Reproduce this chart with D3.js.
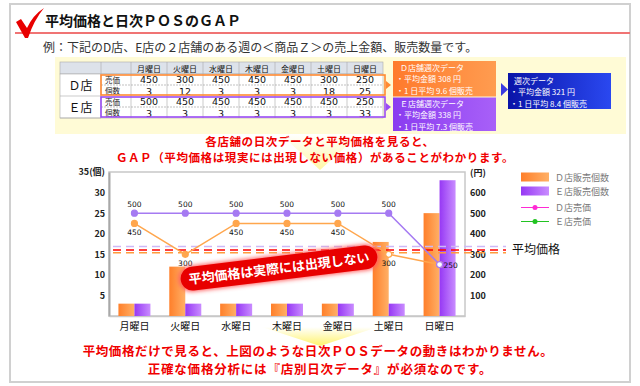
<!DOCTYPE html>
<html>
<head>
<meta charset="utf-8">
<script src="https://cdn.jsdelivr.net/npm/d3@7"></script>
<style>
body { margin: 0; background: #fff; }
text { font-family: "Noto Sans CJK JP", "Noto Sans", sans-serif; }
text.num { font-family: "DejaVu Sans", sans-serif; }
</style>
</head>
<body>
<div id="chart"></div>
<script>
var svgW = 640;
var svgH = 386;

// table data
var days = ["月曜日", "火曜日", "水曜日", "木曜日", "金曜日", "土曜日", "日曜日"];
var dPrice = [450, 300, 450, 450, 450, 300, 250];
var dQty = [3, 12, 3, 3, 3, 18, 25];
var ePrice = [500, 450, 450, 450, 450, 450, 250];
var eQty = [3, 3, 3, 3, 3, 3, 33];

// price lines as labelled on the chart
var dLine = [450, 300, 450, 450, 450, 300, 250];
var eLine = [500, 500, 500, 500, 500, 500, 250];

// averages (円)
var avgE = 338;
var avgAll = 321;
var avgD = 308;

var leftTicks = [5, 10, 15, 20, 25, 30, 35];
var rightTicks = [100, 200, 300, 400, 500, 600];

var svg = d3.select("#chart").append("svg")
    .attr("width", svgW)
    .attr("height", svgH);

var defs = svg.append("defs");
function hGrad(id, c1, c2) {
    var gr = defs.append("linearGradient").attr("id", id)
        .attr("x1", "0%").attr("x2", "100%").attr("y1", "0%").attr("y2", "0%");
    gr.append("stop").attr("offset", "0%").attr("stop-color", c1);
    gr.append("stop").attr("offset", "100%").attr("stop-color", c2);
}
hGrad("gradD", "#ff7f2a", "#ffb066");
hGrad("gradE", "#9638f4", "#c98cff");
hGrad("gradBoxD", "#ff7a2c", "#ff9c50");
hGrad("gradBoxE", "#8a3cf0", "#a860f8");
hGrad("gradBlue", "#0a14a8", "#2a48f0");
var vg = defs.append("linearGradient").attr("id", "gradYel")
    .attr("x1", "0%").attr("x2", "0%").attr("y1", "0%").attr("y2", "100%");
vg.append("stop").attr("offset", "0%").attr("stop-color", "#ffffff");
vg.append("stop").attr("offset", "100%").attr("stop-color", "#fff36a");
var glow = defs.append("filter").attr("id", "glow")
    .attr("x", "-20%").attr("y", "-50%").attr("width", "140%").attr("height", "200%");
glow.append("feGaussianBlur").attr("stdDeviation", 2);

// outer frame
svg.append("rect")
    .attr("x", 10).attr("y", 4).attr("width", 620).attr("height", 378)
    .attr("fill", "#fff").attr("stroke", "#d0d0d0").attr("stroke-width", 2);

// title
svg.append("line")
    .attr("x1", 15).attr("x2", 630).attr("y1", 33).attr("y2", 33)
    .attr("stroke", "#f07474").attr("stroke-width", 2);
svg.append("path")
    .attr("d", "M16,22 L21,19 L27,28 Q33,15 44,8 Q34,20 28,38 L25,38 Z")
    .attr("fill", "#e80000");
svg.append("text")
    .attr("x", 45).attr("y", 26)
    .attr("font-size", "14px").attr("font-weight", "bold").attr("fill", "#111")
    .text("平均価格と日次ＰＯＳのＧＡＰ");
svg.append("text")
    .attr("x", 43).attr("y", 52)
    .attr("font-size", "12px").attr("fill", "#333")
    .text("例：下記のD店、E店の２店舗のある週の＜商品Ｚ＞の売上金額、販売数量です。");

// yellow panel
svg.append("rect")
    .attr("x", 55).attr("y", 57).attr("width", 571).attr("height", 77)
    .attr("fill", "#fffbd6");

// table
var tX = 60, labW = 41, subW = 30, colW = 36;
var dayX = d => tX + labW + subW + d * colW;
var tRight = dayX(7);
var hdrY = 62, hdrH = 12, rowH = 11;
var tbl = svg.append("g");

tbl.append("rect")
    .attr("x", tX).attr("y", hdrY).attr("width", tRight - tX).attr("height", hdrH)
    .attr("fill", "#dde2ea").attr("stroke", "#aaa").attr("stroke-width", 0.6);
tbl.append("rect")
    .attr("x", tX).attr("y", hdrY + hdrH).attr("width", tRight - tX).attr("height", rowH * 4)
    .attr("fill", "#fff").attr("stroke", "#aaa").attr("stroke-width", 0.6);
days.forEach(function (d, i) {
    tbl.append("line")
        .attr("x1", dayX(i)).attr("x2", dayX(i))
        .attr("y1", hdrY).attr("y2", hdrY + hdrH + rowH * 4)
        .attr("stroke", "#aaa").attr("stroke-width", 0.6);
    tbl.append("text")
        .attr("x", dayX(i) + colW / 2).attr("y", hdrY + 9.5)
        .attr("text-anchor", "middle").attr("font-size", "8px").attr("fill", "#111")
        .text(d);
});
tbl.append("line")
    .attr("x1", tX + labW).attr("x2", tX + labW)
    .attr("y1", hdrY).attr("y2", hdrY + hdrH + rowH * 4)
    .attr("stroke", "#aaa").attr("stroke-width", 0.6);

var stores = [
    { name: "Ｄ店", price: dPrice, qty: dQty, color: "#ff8a33" },
    { name: "Ｅ店", price: ePrice, qty: eQty, color: "#9a4cf4" }
];
stores.forEach(function (s, k) {
    var y0 = hdrY + hdrH + k * rowH * 2;
    tbl.append("line")
        .attr("x1", tX + labW).attr("x2", tRight)
        .attr("y1", y0 + rowH).attr("y2", y0 + rowH)
        .attr("stroke", "#999").attr("stroke-width", 0.6).attr("stroke-dasharray", "2,1");
    tbl.append("line")
        .attr("x1", tX).attr("x2", tX + labW)
        .attr("y1", y0 + rowH * 2).attr("y2", y0 + rowH * 2)
        .attr("stroke", "#aaa").attr("stroke-width", 0.6);
    tbl.append("text")
        .attr("x", tX + labW / 2).attr("y", y0 + rowH + 5)
        .attr("text-anchor", "middle").attr("font-size", "12px").attr("fill", "#111")
        .text(s.name);
    ["売価", "個数"].forEach(function (lab, r) {
        tbl.append("text")
            .attr("x", tX + labW + 4).attr("y", y0 + r * rowH + 8.5)
            .attr("font-size", "7.5px").attr("fill", "#222")
            .text(lab);
    });
    days.forEach(function (d, i) {
        tbl.append("text").attr("class", "num")
            .attr("x", dayX(i) + colW / 2).attr("y", y0 + 9)
            .attr("text-anchor", "middle").attr("font-size", "9.5px").attr("fill", "#111")
            .text(s.price[i]);
        tbl.append("text").attr("class", "num")
            .attr("x", dayX(i) + colW / 2).attr("y", y0 + rowH + 9.5)
            .attr("text-anchor", "middle").attr("font-size", "9.5px").attr("fill", "#111")
            .text(s.qty[i]);
    });
    tbl.append("rect")
        .attr("x", tX + labW).attr("y", y0 + 1).attr("width", tRight - tX - labW + 2).attr("height", rowH * 2 - 2)
        .attr("fill", "none").attr("stroke", s.color).attr("stroke-width", 1.6);
    tbl.append("path")
        .attr("d", `M${tRight + 3},${y0 + 7} L${tRight + 8},${y0 + 11} L${tRight + 3},${y0 + 15} Z`)
        .attr("fill", s.color);
});

// weekly boxes
function infoBox(x, y, w, h, fill, lines, dx, dy) {
    svg.append("rect").attr("x", x).attr("y", y).attr("width", w).attr("height", h).attr("fill", fill);
    lines.forEach(function (s, i) {
        svg.append("text")
            .attr("x", x + (i === 0 ? dx : dx - 4)).attr("y", y + dy + i * 11.7)
            .attr("font-size", "8px").attr("fill", "#fff")
            .text(s);
    });
}
infoBox(393, 61, 103, 35.5, "url(#gradBoxD)",
    ["Ｄ店舗週次データ", "・平均金額 308 円", "・1 日平均 9.6 個販売"], 7, 9.5);
infoBox(393, 97.5, 103, 33.5, "url(#gradBoxE)",
    ["Ｅ店舗週次データ", "・平均金額 338 円", "・1 日平均 7.3 個販売"], 7, 9.2);
svg.append("path").attr("d", "M501,83 L508,89.5 L501,96 Z").attr("fill", "#3a3ae0");
infoBox(508, 73, 103, 36, "url(#gradBlue)",
    ["週次データ", "・平均金額 321 円", "・1 日平均 8.4 個販売"], 6, 10.5);

// yellow arrows
svg.append("path").attr("d", "M280,134 L360,134 L320,170 Z").attr("fill", "url(#gradYel)").attr("opacity", 0.6);
svg.append("path").attr("d", "M262,327 L378,327 L320,346 Z").attr("fill", "url(#gradYel)");

// red message
svg.append("text")
    .attr("x", 320).attr("y", 145.5)
    .attr("text-anchor", "middle").attr("font-size", "11.5px").attr("font-weight", "bold").attr("fill", "#f00000")
    .attr("letter-spacing", "0.6px")
    .text("各店舗の日次データと平均価格を見ると、");
svg.append("text")
    .attr("x", 315).attr("y", 162)
    .attr("text-anchor", "middle").attr("font-size", "11.5px").attr("font-weight", "bold").attr("fill", "#f00000")
    .attr("letter-spacing", "0.6px")
    .text("ＧＡＰ（平均価格は現実には出現しない価格）があることがわかります。");

// chart
var plot = { left: 109, right: 465, top: 172, bottom: 316 };
var x = d3.scaleBand().domain(days).range([plot.left, plot.right]);
var yL = d3.scaleLinear().domain([0, 35]).range([plot.bottom, plot.top]);
var yR = d3.scaleLinear().domain([0, 700]).range([plot.bottom, plot.top]);
var barW = 16;

var g = svg.append("g");
g.append("rect")
    .attr("x", plot.left).attr("y", plot.top)
    .attr("width", plot.right - plot.left).attr("height", plot.bottom - plot.top)
    .attr("fill", "#fff").attr("stroke", "#c8c8c8").attr("stroke-width", 1.5);

var leftAxis = d3.axisLeft(yL).tickValues(leftTicks).tickSize(0).tickPadding(4)
    .tickFormat(d => d === 35 ? "35(個)" : d);
var la = g.append("g").attr("transform", `translate(${plot.left},0)`).call(leftAxis);
la.select(".domain").attr("stroke", "#a8a8a8").attr("stroke-width", 2);
la.selectAll("text").attr("font-size", "9px").attr("font-weight", "bold").attr("fill", "#222");

var rightAxis = d3.axisRight(yR).tickValues(rightTicks).tickSize(0).tickPadding(5);
var ra = g.append("g").attr("transform", `translate(${plot.right},0)`).call(rightAxis);
ra.select(".domain").remove();
ra.selectAll("text").attr("font-size", "9px").attr("font-weight", "bold").attr("fill", "#222");
g.append("text")
    .attr("x", plot.right + 5).attr("y", plot.top + 4)
    .attr("font-size", "9px").attr("font-weight", "bold").attr("fill", "#222")
    .text("(円)");

var bottomAxis = d3.axisBottom(x).tickSize(0).tickPadding(7);
var ba = g.append("g").attr("transform", `translate(0,${plot.bottom})`).call(bottomAxis);
ba.select(".domain").attr("stroke", "#c8c8c8").attr("stroke-width", 1.5);
ba.selectAll("text").attr("font-size", "10px").attr("fill", "#111");

// bars
g.selectAll(".barD").data(dQty).enter().append("rect")
    .attr("x", (d, i) => x(days[i]) + x.bandwidth() / 2 - barW)
    .attr("y", d => yL(d))
    .attr("width", barW)
    .attr("height", d => yL(0) - yL(d))
    .attr("fill", "url(#gradD)");
g.selectAll(".barE").data(eQty).enter().append("rect")
    .attr("x", (d, i) => x(days[i]) + x.bandwidth() / 2)
    .attr("y", d => yL(d))
    .attr("width", barW)
    .attr("height", d => yL(0) - yL(d))
    .attr("fill", "url(#gradE)");

// average dashed lines
[[avgE, "#cdb8f6"], [avgAll, "#ff0000"], [avgD, "#ff9a3c"]].forEach(function (a) {
    g.append("line")
        .attr("x1", plot.left + 4).attr("x2", 506)
        .attr("y1", yR(a[0])).attr("y2", yR(a[0]))
        .attr("stroke", a[1]).attr("stroke-width", 1.5).attr("stroke-dasharray", "8,5");
});
g.append("text")
    .attr("x", 512).attr("y", yR(avgAll) + 4)
    .attr("font-size", "12px").attr("fill", "#111")
    .text("平均価格");

// price lines
var cx = (d, i) => x(days[i]) + x.bandwidth() / 2;
var line = d3.line().x(cx).y(d => yR(d));
g.append("path").datum(dLine).attr("d", line)
    .attr("fill", "none").attr("stroke", "#ffa64d").attr("stroke-width", 1.5);
g.append("path").datum(eLine).attr("d", line)
    .attr("fill", "none").attr("stroke", "#a57af2").attr("stroke-width", 1.5);

g.selectAll(".ptD").data(dLine).enter().append("circle")
    .attr("cx", cx).attr("cy", d => yR(d)).attr("r", 3)
    .attr("fill", (d, i) => i >= 5 ? "#fff" : "#ffa64d")
    .attr("stroke", "#ffa64d").attr("stroke-width", 1.2);
g.selectAll(".ptE").data(eLine).enter().append("circle")
    .attr("cx", cx).attr("cy", d => yR(d)).attr("r", 3)
    .attr("fill", (d, i) => i === 6 ? "#fff" : "#a57af2")
    .attr("stroke", "#a57af2").attr("stroke-width", 1.2);

g.selectAll(".lbE").data(eLine).enter().append("text")
    .filter((d, i) => i < 6)
    .attr("class", "num")
    .attr("x", cx).attr("y", d => yR(d) - 6)
    .attr("text-anchor", "middle").attr("font-size", "7.5px").attr("fill", "#111")
    .text(d => d);
g.selectAll(".lbD").data(dLine).enter().append("text")
    .filter((d, i) => i < 6)
    .attr("class", "num")
    .attr("x", cx).attr("y", d => yR(d) + 12)
    .attr("text-anchor", "middle").attr("font-size", "7.5px").attr("fill", "#111")
    .text(d => d);
g.append("text").attr("class", "num")
    .attr("x", cx(0, 6) + 4).attr("y", yR(eLine[6]) + 3)
    .attr("font-size", "7.5px").attr("fill", "#111")
    .text(eLine[6]);

// red banner
var ban = svg.append("g").attr("transform", "translate(279,268) rotate(-7)");
ban.append("rect")
    .attr("x", -101).attr("y", -13).attr("width", 202).attr("height", 26).attr("rx", 13)
    .attr("fill", "#ff6060").attr("filter", "url(#glow)");
ban.append("rect")
    .attr("x", -99).attr("y", -12).attr("width", 198).attr("height", 24).attr("rx", 12)
    .attr("fill", "#e80000");
ban.append("text")
    .attr("x", 0).attr("y", 5)
    .attr("text-anchor", "middle").attr("font-size", "13px").attr("font-weight", "bold").attr("fill", "#fff")
    .text("平均価格は実際には出現しない");

// legend
var legItems = [
    { label: "Ｄ店販売個数", type: "bar", fill: "url(#gradD)" },
    { label: "Ｅ店販売個数", type: "bar", fill: "url(#gradE)" },
    { label: "Ｄ店売価", type: "line", fill: "#ff2ad4" },
    { label: "Ｅ店売価", type: "line", fill: "#22c322" }
];
var legY = [177, 191, 207.5, 221.5];
legItems.forEach(function (it, i) {
    if (it.type === "bar") {
        svg.append("rect").attr("x", 521).attr("y", legY[i] - 4.5).attr("width", 28).attr("height", 9)
            .attr("fill", it.fill);
    } else {
        svg.append("line").attr("x1", 521).attr("x2", 549).attr("y1", legY[i]).attr("y2", legY[i])
            .attr("stroke", it.fill).attr("stroke-width", 1);
        svg.append("circle").attr("cx", 535).attr("cy", legY[i]).attr("r", 2.5).attr("fill", it.fill);
    }
    svg.append("text")
        .attr("x", 555).attr("y", legY[i] + 3.5)
        .attr("font-size", "9px").attr("fill", "#777")
        .text(it.label);
});

// bottom message
svg.append("text")
    .attr("x", 318).attr("y", 355.5)
    .attr("text-anchor", "middle").attr("font-size", "12.5px").attr("font-weight", "bold").attr("fill", "#f00000")
    .attr("letter-spacing", "0.6px")
    .text("平均価格だけで見ると、上図のような日次ＰＯＳデータの動きはわかりません。");
svg.append("text")
    .attr("x", 320).attr("y", 373.5)
    .attr("text-anchor", "middle").attr("font-size", "12.5px").attr("font-weight", "bold").attr("fill", "#f00000")
    .attr("letter-spacing", "0.8px")
    .text("正確な価格分析には『店別日次データ』が必須なのです。");
</script>
</body>
</html>
